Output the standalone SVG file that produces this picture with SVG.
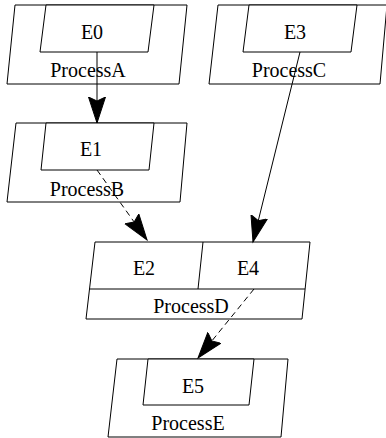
<svg xmlns="http://www.w3.org/2000/svg" width="386" height="438" viewBox="0 0 386 438">
  <style>
    .shape { fill: #ffffff; stroke: #000000; stroke-width: 1; }
    .line { fill: none; stroke: #000000; stroke-width: 1; }
    .edge { fill: none; stroke: #000000; stroke-width: 1; }
    .dashed { stroke-dasharray: 6 4; }
    .label { font-family: "Liberation Serif", "Times New Roman", serif; font-size: 20px; fill: #000000; text-anchor: middle; }
  </style>
  <defs>
    <!-- filled, slightly notched arrowhead shared by all edges -->
    <marker id="arrow" markerUnits="userSpaceOnUse" markerWidth="28" markerHeight="20" refX="26" refY="9" orient="auto">
      <path d="M0,0.5 L26,9 L0,17.5 L4,9 Z" fill="#000000" stroke="#000000" stroke-width="1"/>
    </marker>
  </defs>
  <rect width="386" height="438" fill="#ffffff"/>

  <g id="ProcessA">
    <polygon class="shape" points="15,5 187,5 179,84 7,84"/>
    <polygon class="shape" points="46,5 154,5 148,52 40,52"/>
    <text class="label" x="92" y="39">E0</text>
    <text class="label" x="88" y="77">ProcessA</text>
  </g>

  <g id="ProcessC">
    <polygon class="shape" points="218,5 387,5 380,84 209,84"/>
    <polygon class="shape" points="249,5 357,5 351,52 243,52"/>
    <text class="label" x="295" y="39">E3</text>
    <text class="label" x="289" y="77">ProcessC</text>
  </g>

  <g id="ProcessB">
    <polygon class="shape" points="16,123 187,123 180,202 7,202"/>
    <polygon class="shape" points="46,123 154,123 149,170 41,170"/>
    <text class="label" x="91" y="156">E1</text>
    <text class="label" x="87" y="196">ProcessB</text>
  </g>

  <g id="ProcessD">
    <polygon class="shape" points="95,242 310,242 302,319 86,319"/>
    <line class="line" x1="89.5" y1="289" x2="305" y2="289"/>
    <line class="line" x1="203" y1="242" x2="198" y2="289"/>
    <text class="label" x="144" y="275">E2</text>
    <text class="label" x="248" y="275">E4</text>
    <text class="label" x="191" y="313">ProcessD</text>
  </g>

  <g id="ProcessE">
    <polygon class="shape" points="117,359 288,359 281,437 108,437"/>
    <polygon class="shape" points="148,359 254,359 249,405 143,405"/>
    <text class="label" x="193" y="393">E5</text>
    <text class="label" x="188" y="430">ProcessE</text>
  </g>

  <g id="connectors">
    <line class="edge" x1="97" y1="52" x2="97" y2="123" marker-end="url(#arrow)"/>
    <line class="edge dashed" x1="97" y1="170" x2="147" y2="240" marker-end="url(#arrow)"/>
    <line class="edge" x1="300" y1="52" x2="253" y2="242" marker-end="url(#arrow)"/>
    <line class="edge dashed" x1="254" y1="289" x2="198" y2="358" marker-end="url(#arrow)"/>
  </g>
</svg>
